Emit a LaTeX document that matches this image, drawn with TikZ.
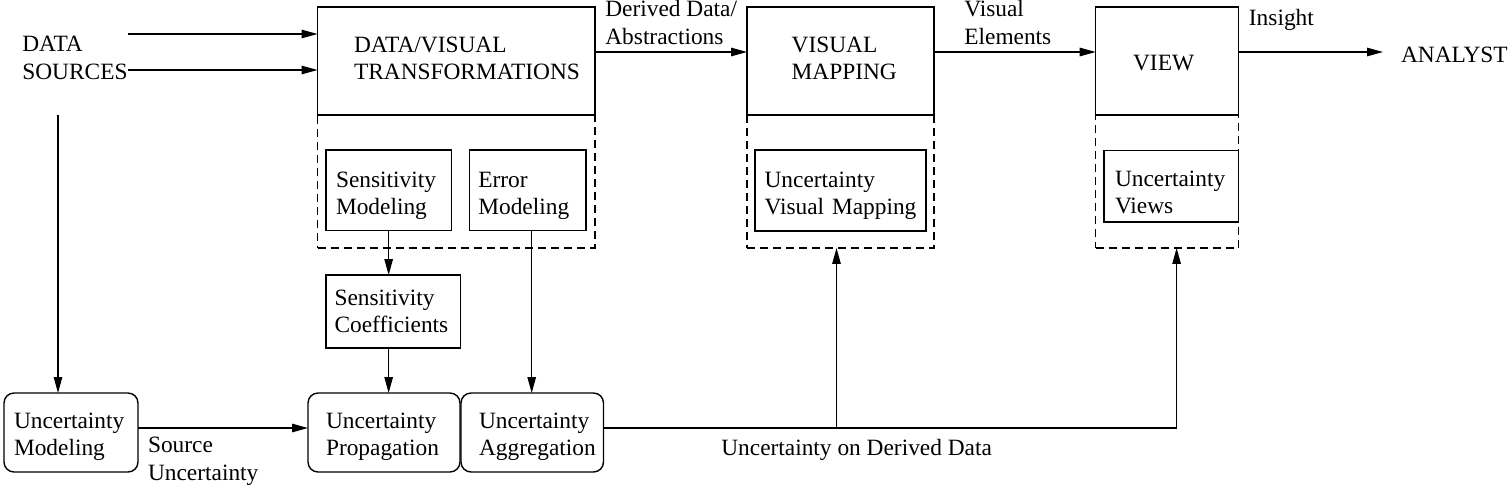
\documentclass[tikz,border=0pt]{standalone}
\usepackage{fontspec}
\setmainfont{Liberation Serif}
\usetikzlibrary{arrows.meta,positioning}
\tikzset{
  blk/.style={draw, line width=0.8pt, outer sep=0pt, align=left},
  rblk/.style={blk, rounded corners=0.2cm},
  drop/.style={execute at begin node={\rule{0pt}{#1}}},
  sink/.style={execute at end node={\rule[-#1]{0pt}{#1}}},
  dashbox/.style={draw, dash pattern=on 0.16cm off 0.1cm, line width=0.8pt, outer sep=0pt, minimum height=2.66cm},
  lbl/.style={inner sep=0pt, align=left, anchor=base west},
  arr/.style={line width=0.7pt, -{Triangle[length=0.32cm,width=0.17cm]}}
}
\begin{document}
\begin{tikzpicture}[x=0.02cm,y=-0.02cm,font=\fontsize{13.3pt}{15.4pt}\selectfont]
\useasboundingbox (0,0) rectangle (1512,488);

% pipeline
\node[lbl] (src) at (22,79) {DATA\\SOURCES};
\node[blk, sink=0.12cm, text width=4.09cm, inner xsep=0.73cm, minimum height=2.16cm] (dvt) at (456.25,61) {DATA/VISUAL\\TRANSFORMATIONS};
\node[dashbox, minimum width=5.55cm, below=0pt of dvt] (dvtx) {};
\node[blk, sink=0.12cm, text width=1.952cm, inner xsep=0.894cm, minimum height=2.16cm] (vmap) at (840.5,61) {VISUAL\\MAPPING};
\node[dashbox, minimum width=3.74cm, below=0pt of vmap] (vmapx) {};
\node[blk, drop=0.38cm, text width=1.36cm, inner xsep=0.748cm, minimum height=2.16cm] (view) at (1167.1,61) {VIEW};
\node[dashbox, minimum width=2.856cm, below=0pt of view] (viewx) {};
\node[lbl, inner xsep=0.354cm] (analyst) at (1383,62) {ANALYST};

% uncertainty parts
\node[blk, drop=0.508cm, text width=2.106cm, inner xsep=0.2cm, minimum height=1.614cm] (sensmod) at (388.65,190.35) {Sensitivity\\Modeling};
\node[blk, drop=0.508cm, text width=1.974cm, inner xsep=0.18cm, minimum height=1.614cm] (errmod) at (527.65,190.35) {Error\\Modeling};
\node[blk, text width=2.35cm, inner xsep=0.17cm, minimum height=1.46cm] (senscoef) at (393.25,311.5) {Sensitivity\\Coefficients};
\node[blk, drop=0.502cm, text width=3.036cm, inner xsep=0.192cm, minimum height=1.62cm] (uvmap) at (840.5,190.5) {Uncertainty\\Visual Mapping};
\node[blk, drop=0.566cm, text width=2.25cm, inner xsep=0.22cm, minimum height=1.426cm] (uviews) at (1171.25,186.35) {Uncertainty\\Views};
\node[rblk, drop=0.462cm, text width=2.28cm, inner xsep=0.2cm, minimum height=1.58cm] (umod) at (71,432.5) {Uncertainty\\Modeling};
\node[rblk, drop=0.462cm, text width=2.32cm, inner xsep=0.36cm, minimum height=1.58cm] (uprop) at (384,432.5) {Uncertainty\\Propagation};
\node[rblk, drop=0.462cm, text width=2.13cm, inner xsep=0.36cm, minimum height=1.58cm] (uagg) at (532.25,432.5) {Uncertainty\\Aggregation};

% labels
\node[lbl] (derived) at (605,44) {Derived Data/\\Abstractions};
\node[lbl] (velem) at (964,44) {Visual\\Elements};
\node[lbl] (insight) at (1248.6,25) {Insight};
\node[lbl] (srcunc) at (147.7,480) {Source\\Uncertainty};
\node[lbl] (uderiv) at (721,455) {Uncertainty on Derived Data};

\coordinate (hi) at (0,52);
\coordinate (lo) at (0,428);
\coordinate (in1) at (128,34);
\coordinate (in2) at (128,70);
\coordinate (down) at (58,115);
\coordinate (errout) at (531.7,230.7);
\coordinate (tap) at (836.5,428);
\coordinate (bus) at (1176.6,428);

\draw[arr] (in1) -- (in1 -| dvt.west);
\draw[arr] (in2) -- (in2 -| dvt.west);
\draw[arr] (dvt.east |- hi) -- (vmap.west |- hi);
\draw[arr] (vmap.east |- hi) -- (view.west |- hi);
\draw[arr] (view.east |- hi) -- (analyst.west |- hi);
\draw[arr] (down) -- (down |- umod.north);
\draw[arr] (sensmod.south) -- (sensmod.south |- senscoef.north);
\draw[arr] (sensmod.south |- senscoef.south) -- (sensmod.south |- uprop.north);
\draw[arr] (errout) -- (errout |- uagg.north);
\draw[arr] (umod.east |- lo) -- (uprop.west |- lo);
\draw[line width=0.7pt] (uagg.east |- lo) -- (bus);
\draw[arr] (tap) -- (tap |- vmapx.south);
\draw[arr] (bus) -- (bus |- viewx.south);
\end{tikzpicture}
\end{document}
